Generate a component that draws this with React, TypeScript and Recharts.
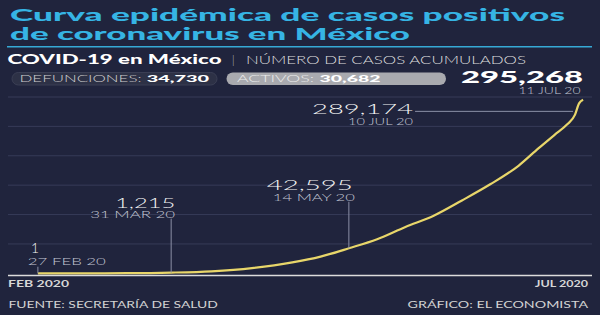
import { LineChart, Line, XAxis, YAxis, CartesianGrid, ReferenceDot } from "recharts";

// casos acumulados
const dates = [
  "2020-02-27", "2020-03-10", "2020-03-20", "2020-03-31", "2020-04-10", "2020-04-20",
  "2020-04-30", "2020-05-07", "2020-05-14", "2020-05-21", "2020-05-28", "2020-06-04",
  "2020-06-11", "2020-06-18", "2020-06-25", "2020-06-30", "2020-07-04", "2020-07-07",
  "2020-07-09", "2020-07-10", "2020-07-11",
];
const cases = [
  1, 7, 203, 1215, 3441, 8772,
  18500, 28500, 42595, 58000, 79000, 98000,
  124000, 151500, 183000, 213000, 236000, 253000,
  270000, 289174, 295268,
];
const yTicks = [50000, 100000, 150000, 200000, 250000, 300000];
const xTickLabels = ["FEB 2020", "JUL 2020"];

const markDates = ["2020-02-27", "2020-03-31", "2020-05-14", "2020-07-10"];
const markValues = [1, 1215, 42595, 289174];
const markLabels = ["27 FEB 20", "31 MAR 20", "14 MAY 20", "10 JUL 20"];

const lastValue = 295268;
const lastLabel = "11 JUL 20";
const deaths = 34730;
const active = 30682;

const dayOf = (s: string) => {
  const [y, m, d] = s.split("-").map(Number);
  return (Date.UTC(y, m - 1, d) - Date.UTC(2020, 0, 1)) / 86400000;
};
const data = dates.map((d, i) => ({ day: dayOf(d), cases: cases[i] }));
const xDomain = [49.6, 194.2];
const fmt = (n: number) => n.toLocaleString("en-US");

const FONT = "Lato, 'Open Sans', sans-serif";
const BG = "#20243d";

// texto estirado a un ancho fijo (la tipografia original es muy ancha)
const WText = ({ x, y, w, size, weight = 400, fill = "#fff", children }: any) => (
  <text
    x={x}
    y={y}
    textLength={w}
    lengthAdjust="spacingAndGlyphs"
    fontSize={size}
    fontWeight={weight}
    fill={fill}
    fontFamily={FONT}
  >
    {children}
  </text>
);

// posicion de cada etiqueta respecto a su punto
const markLayout = [
  { numL: -7, numW: 8, numY: -20, dateL: -10, dateW: 78, dateY: -8, line: "v", top: -6.6 },
  { numR: 4, numW: 60, numY: -65, dateR: 4, dateW: 85, dateY: -55, line: "v", top: -54 },
  { numR: 4, numW: 86, numY: -58.5, dateR: 6, dateW: 82, dateY: -47.5, line: "v", top: -46.5 },
  { numR: -166, numW: 101, numY: 11, dateR: -166, dateW: 65, dateY: 21.8, line: "h", top: 8 },
];

const markShape = (i: number) => (p: any) => {
  const { cx, cy } = p;
  const L: any = markLayout[i];
  const numX = L.numL !== undefined ? cx + L.numL : cx + L.numR - L.numW;
  const dateX = L.dateL !== undefined ? cx + L.dateL : cx + L.dateR - L.dateW;
  return (
    <g>
      {L.line === "v" ? (
        <line x1={cx} x2={cx} y1={cy + L.top} y2={cy} stroke="#8b8fa6" strokeWidth={1} />
      ) : (
        <line x1={cx - 164} x2={cx - 6} y1={cy + L.top} y2={cy + L.top} stroke="#8b8fa6" strokeWidth={1} />
      )}
      <WText x={numX} y={cy + L.numY} w={L.numW} size={14} weight={300} fill="#f4f4f4">
        {fmt(markValues[i])}
      </WText>
      <WText x={dateX} y={cy + L.dateY} w={L.dateW} size={9.5} weight={300} fill="#c3c6d4">
        {markLabels[i]}
      </WText>
    </g>
  );
};

const YTick = ({ y, payload }: any) => {
  const s = fmt(payload.value);
  return (
    <WText x={8} y={y + 9.5} w={s.length * 8} size={8.5} weight={400} fill="#50566f">
      {s}
    </WText>
  );
};

const XTick = ({ y, index }: any) => {
  const first = index === 0;
  const w = first ? 61 : 53;
  return (
    <WText x={first ? 8 : 588 - w} y={y + 3.5} w={w} size={9.5} weight={700} fill="#d6d6d6">
      {xTickLabels[index]}
    </WText>
  );
};

export default function App() {
  return (
    <div
      style={{
        position: "absolute",
        left: 0,
        top: 0,
        width: 600,
        height: 315,
        background: BG,
        overflow: "hidden",
      }}
    >
      <LineChart
        width={600}
        height={315}
        data={data}
        margin={{ top: 97, right: 8, bottom: 19.5, left: 8 }}
        style={{ position: "absolute", left: 0, top: 0 }}
      >
        <CartesianGrid vertical={false} stroke="#363b58" strokeWidth={1} />
        <XAxis
          dataKey="day"
          type="number"
          domain={xDomain}
          ticks={xDomain}
          height={20}
          axisLine={{ stroke: "#dcdcdc", strokeWidth: 1.5 }}
          tickLine={false}
          tick={<XTick />}
          interval={0}
        />
        <YAxis
          width={0}
          domain={[-3700, 300000]}
          ticks={yTicks}
          axisLine={false}
          tickLine={false}
          tick={<YTick />}
          interval={0}
        />
        <Line
          dataKey="cases"
          type="monotone"
          stroke="#e8d66a"
          strokeWidth={2.2}
          dot={false}
          isAnimationActive={false}
        />
        {markDates.map((d, i) => (
          <ReferenceDot key={d} x={dayOf(d)} y={markValues[i]} r={0} shape={markShape(i)} />
        ))}
      </LineChart>

      <svg
        width={600}
        height={315}
        style={{ position: "absolute", left: 0, top: 0, pointerEvents: "none" }}
      >
        <WText x={10} y={20.8} w={555} size={16} weight={900} fill="#36b4e4">
          Curva epidémica de casos positivos
        </WText>
        <WText x={10} y={40} w={400} size={16} weight={900} fill="#36b4e4">
          de coronavirus en México
        </WText>
        <line x1={7} x2={592} y1={46.7} y2={46.7} stroke="#36a9d6" strokeWidth={1.5} />

        <WText x={7.5} y={64} w={214} size={12.5} weight={900} fill="#ffffff">
          COVID-19 en México
        </WText>
        <WText x={232} y={63.5} w={2.5} size={11} weight={300} fill="#c8c8c8">
          |
        </WText>
        <WText x={246} y={63.5} w={280} size={11} weight={300} fill="#dedede">
          NÚMERO DE CASOS ACUMULADOS
        </WText>

        <rect x={12} y={72.5} width={205} height={12.5} rx={6.25} fill="#2d3146" stroke="#3a3e54" />
        <WText x={19.5} y={82.3} w={122} size={9.5} weight={300} fill="#cfcfcf">
          DEFUNCIONES:
        </WText>
        <WText x={146.7} y={82.3} w={62.5} size={9.5} weight={900} fill="#ffffff">
          {fmt(deaths)}
        </WText>

        <rect x={226.5} y={72.5} width={219.5} height={12.5} rx={6.25} fill="#a9aaaf" />
        <WText x={237} y={82.3} w={77} size={9.5} weight={300} fill="#ececec">
          ACTIVOS:
        </WText>
        <WText x={319.5} y={82.3} w={61} size={9.5} weight={900} fill="#ffffff">
          {fmt(active)}
        </WText>

        <WText x={461} y={83.3} w={122} size={16} weight={900} fill="#ffffff">
          {fmt(lastValue)}
        </WText>
        <WText x={518.5} y={94.3} w={62} size={9.5} weight={300} fill="#c3c6d4">
          {lastLabel}
        </WText>

        <WText x={8.4} y={307.5} w={209.5} size={10} weight={400} fill="#d2d2d2">
          FUENTE: SECRETARÍA DE SALUD
        </WText>
        <WText x={407.6} y={307.5} w={180.5} size={10} weight={400} fill="#d2d2d2">
          GRÁFICO: EL ECONOMISTA
        </WText>
      </svg>
    </div>
  );
}
